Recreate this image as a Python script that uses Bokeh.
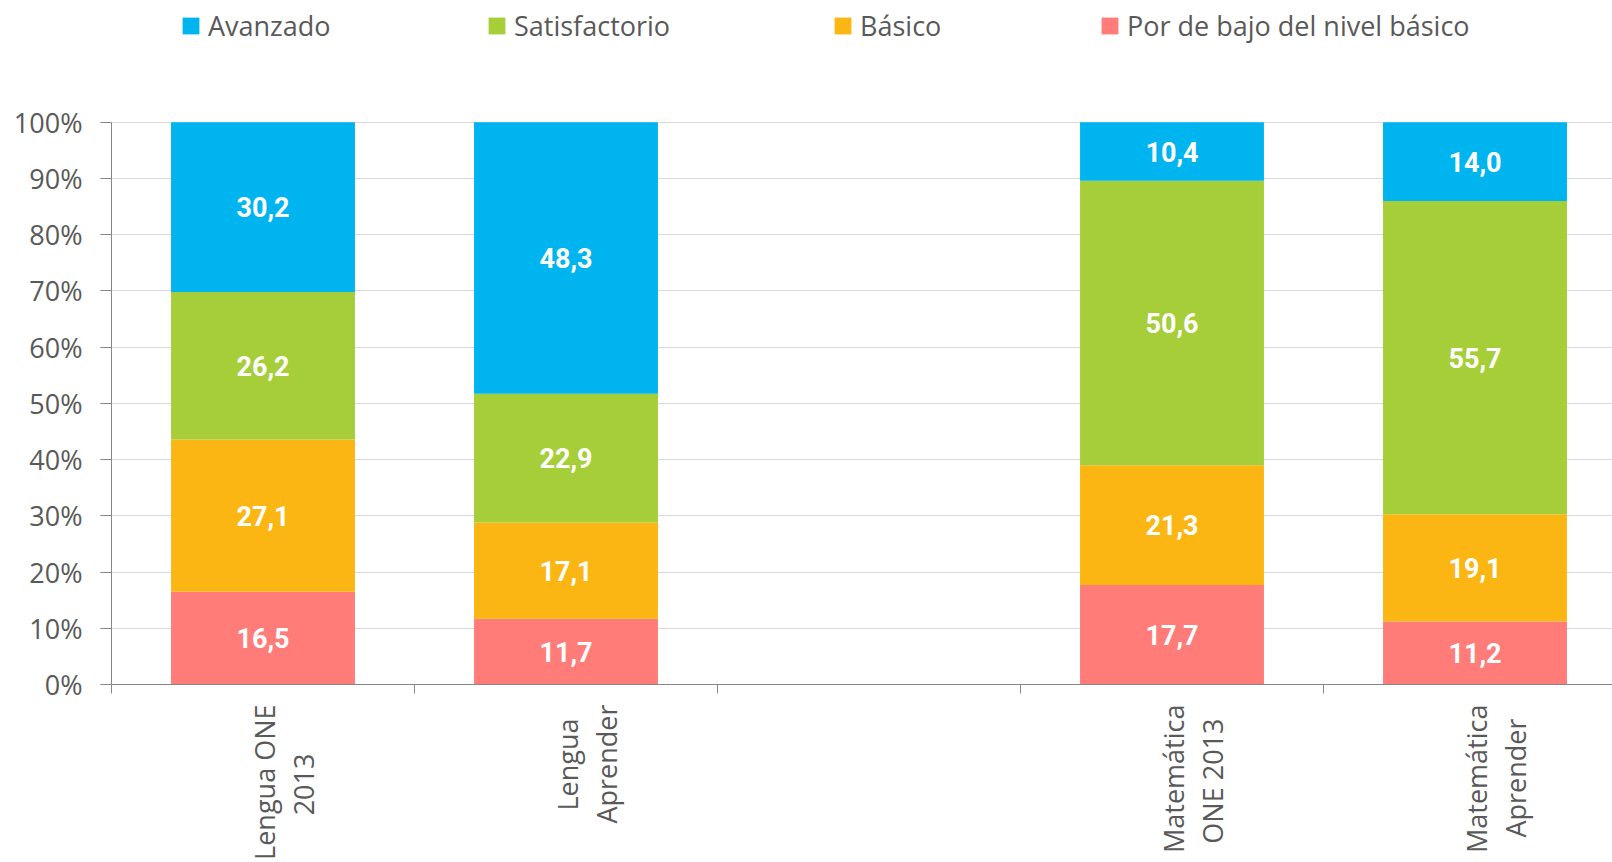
import math
from bokeh.plotting import figure
from bokeh.models import (Range1d, FixedTicker, ColumnDataSource, Legend, LegendItem)
from bokeh.embed import file_html
from bokeh.resources import INLINE
from bokeh.core.properties import value

# ---- data ----
categories = ["Lengua ONE 2013", "Lengua Aprender", "", "Matemática ONE 2013", "Matemática Aprender"]
category_lines = [("Lengua ONE", "2013"), ("Lengua", "Aprender"), None, ("Matemática", "ONE 2013"), ("Matemática", "Aprender")]
levels = ["Por de bajo del nivel básico", "Básico", "Satisfactorio", "Avanzado"]
por_debajo = [16.5, 11.7, None, 17.7, 11.2]
basico = [27.1, 17.1, None, 21.3, 19.1]
satisfactorio = [26.2, 22.9, None, 50.6, 55.7]
avanzado = [30.2, 48.3, None, 10.4, 14.0]
y_ticks = [0, 10, 20, 30, 40, 50, 60, 70, 80, 90, 100]
y_tick_labels = ["0%", "10%", "20%", "30%", "40%", "50%", "60%", "70%", "80%", "90%", "100%"]

colors = ["#FF7C78", "#FBB614", "#A6CE39", "#00B5EF"]
series = [por_debajo, basico, satisfactorio, avanzado]
keys = ["s0", "s1", "s2", "s3"]

idx = [i for i, c in enumerate(categories) if c]
data = {"x": [i + 0.5 for i in idx]}
for k, s in zip(keys, series):
    data[k] = [s[i] for i in idx]
src = ColumnDataSource(data)

# value labels at segment centres
lx, ly, lt = [], [], []
for i in idx:
    bottom = 0.0
    for s in series:
        v = s[i]
        lx.append(i + 0.5)
        ly.append(bottom + v / 2)
        lt.append(f"{v:.1f}".replace(".", ","))
        bottom += v
lab_src = ColumnDataSource(dict(x=lx, y=ly, t=lt))

W, H = 1612, 862
frame_left_px, chart_top_px, frame_bottom_px = 111, 122, 685
cat_px = 303.0
x_end = (W - frame_left_px) / cat_px
px_per_unit = (frame_bottom_px - chart_top_px) / 100.0
y_end = 100 + chart_top_px / px_per_unit   # frame reaches the top of the canvas (legend area)

p = figure(width=W, height=H, output_backend="svg", toolbar_location=None,
           x_range=Range1d(0, x_end), y_range=Range1d(0, y_end),
           min_border_left=frame_left_px, min_border_right=0,
           min_border_top=0, min_border_bottom=H - frame_bottom_px)
p.outline_line_color = None
p.background_fill_color = "white"

renderers = p.vbar_stack(keys, x="x", width=0.607, color=colors, line_color=None, source=src)

p.text(x="x", y="y", text="t", source=lab_src, text_color="white",
       text_font=value("Roboto"), text_font_style="bold", text_font_size="27px",
       text_align="center", text_baseline="middle")

# y axis
ya = p.yaxis[0]
ya.ticker = FixedTicker(ticks=y_ticks)
ya.bounds = (0, 100)
ya.major_label_overrides = {t: l for t, l in zip(y_ticks, y_tick_labels)}
ya.major_tick_out = 11
ya.major_tick_in = 0
ya.minor_tick_out = 0
ya.minor_tick_in = 0
ya.axis_line_color = "#868686"
ya.major_tick_line_color = "#868686"
ya.major_label_text_color = "#595959"
ya.major_label_text_font = "Open Sans"
ya.major_label_text_font_size = "27px"
ya.major_label_standoff = 18

# x axis labels: two lines, the shorter one padded so both lines are centred
NBSP = "\u00a0"
pads = {0: 7, 1: 2, 3: 2, 4: 2}
def make_label(i):
    a, b = category_lines[i]
    if len(a) >= len(b):
        b = b + NBSP * pads[i]
    else:
        a = a + NBSP * pads[i]
    return a + "\n" + b

label_shift = 0.07
label_ticks = [round(i + 0.5 + label_shift, 3) for i in idx]
xa = p.xaxis[0]
xa.ticker = FixedTicker(ticks=label_ticks, minor_ticks=list(range(len(categories) + 1)))
xa.major_label_overrides = {t: make_label(i) for t, i in zip(label_ticks, idx)}
xa.major_label_orientation = math.pi / 2
xa.minor_tick_out = 9
xa.minor_tick_in = 0
xa.minor_tick_line_color = "#868686"
xa.major_tick_out = 0
xa.major_tick_in = 0
xa.axis_line_color = "#868686"
xa.major_label_text_font = "Open Sans"
xa.major_label_text_font_size = "27px"
xa.major_label_text_color = "#595959"
xa.major_label_text_line_height = 1.04
xa.major_label_standoff = 11

p.xgrid.grid_line_color = None
p.ygrid.ticker = FixedTicker(ticks=y_ticks)
p.ygrid.grid_line_color = "#D9D9D9"

# legends (top, one per item)
legend_left_px = [180, 486, 832, 1099]
legend_order = [3, 2, 1, 0]
for pos, si in zip(legend_left_px, legend_order):
    lg = Legend(items=[LegendItem(label=levels[si], renderers=[renderers[si]])],
                location=(pos - frame_left_px, frame_bottom_px - 45),
                orientation="horizontal", padding=0, margin=0, spacing=0,
                border_line_color=None, background_fill_alpha=0,
                glyph_width=21, glyph_height=21, label_standoff=7,
                label_text_font="Open Sans", label_text_font_size="27px",
                label_text_color="#595959")
    p.add_layout(lg)

open("out.html", "w").write(file_html(p, INLINE))
